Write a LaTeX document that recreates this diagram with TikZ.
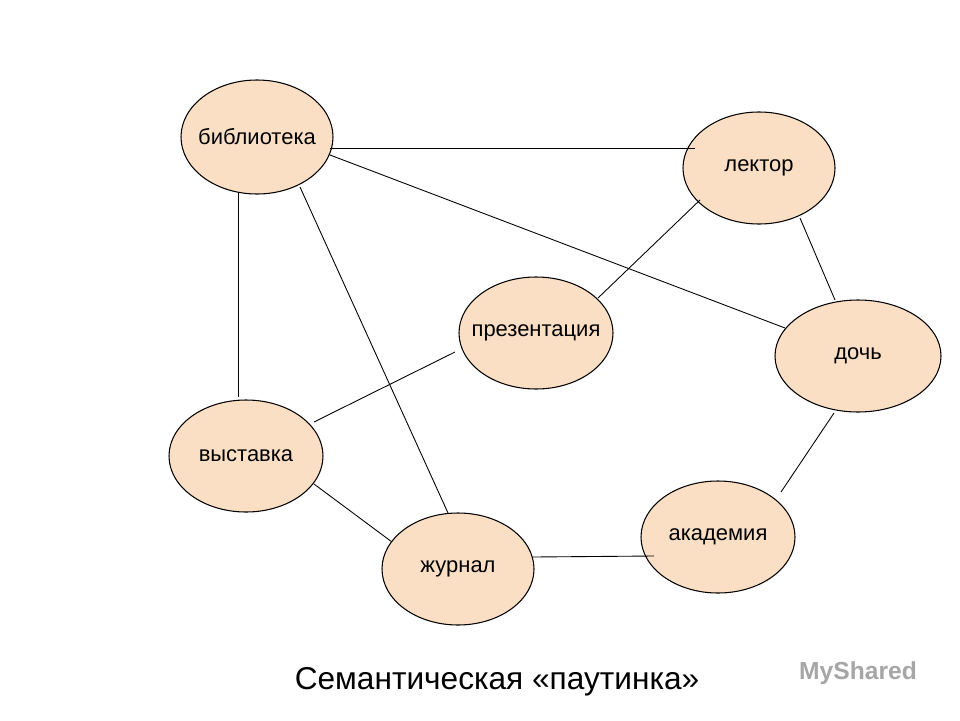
\documentclass[tikz,border=0pt]{standalone}
\usepackage{fontspec}
\setmainfont{Liberation Sans}
\usetikzlibrary{shapes.geometric}
\definecolor{peach}{HTML}{FBDFC5}
\begin{document}
\begin{tikzpicture}[x=0.02cm,y=-0.02cm,
  blob/.style={ellipse,draw=black,line width=0.6pt,fill=peach,inner xsep=-8pt,inner ysep=0pt,
    font=\fontsize{12.5}{14}\selectfont},
  link/.style={draw=black,line width=0.5pt}]
\path[use as bounding box,fill=white] (0,0) rectangle (960,720);
\node[blob,minimum width=152*0.02cm,minimum height=114*0.02cm] (b) at (257,137) {библиотека};
\node[blob,minimum width=152*0.02cm,minimum height=112*0.02cm] (l) at (759,168) {лектор};
\node[blob,minimum width=154*0.02cm,minimum height=112*0.02cm] (p) at (536,333) {презентация};
\node[blob,minimum width=166*0.02cm,minimum height=112*0.02cm] (d) at (858,356) {дочь};
\node[blob,minimum width=154*0.02cm,minimum height=112*0.02cm] (v) at (246,456) {выставка};
\node[blob,minimum width=152*0.02cm,minimum height=112*0.02cm] (j) at (458,569) {журнал};
\node[blob,minimum width=154*0.02cm,minimum height=112*0.02cm] (a) at (718,537) {академия};
\draw[link] ([shift={(73,11)}]b.center) -- ([shift={(-64,-20)}]l.center);
\draw[link] ([shift={(73,18)}]b.center) -- ([shift={(-73,-28)}]d.center);
\draw[link] ([shift={(-19,56)}]b.center) -- ([shift={(-8,-59)}]v.center);
\draw[link] ([shift={(43,50)}]b.center) -- ([shift={(-10,-56)}]j.center);
\draw[link] ([shift={(-59,32)}]l.center) -- ([shift={(62,-35)}]p.center);
\draw[link] ([shift={(41,50)}]l.center) -- ([shift={(-23,-56)}]d.center);
\draw[link] ([shift={(-81,19)}]p.center) -- ([shift={(68,-34)}]v.center);
\draw[link] ([shift={(68,28)}]v.center) -- ([shift={(-66,-27)}]j.center);
\draw[link] ([shift={(75,-12)}]j.center) -- ([shift={(-64,19)}]a.center);
\draw[link] ([shift={(-24,57)}]d.center) -- ([shift={(63,-45)}]a.center);
\node[font=\fontsize{18}{22}\selectfont] (t) at (497,682) {Семантическая «паутинка»};
\node[font=\fontsize{14}{16}\selectfont\bfseries,text=black!35] (w) at (858,673) {MyShared};
\end{tikzpicture}
\end{document}
